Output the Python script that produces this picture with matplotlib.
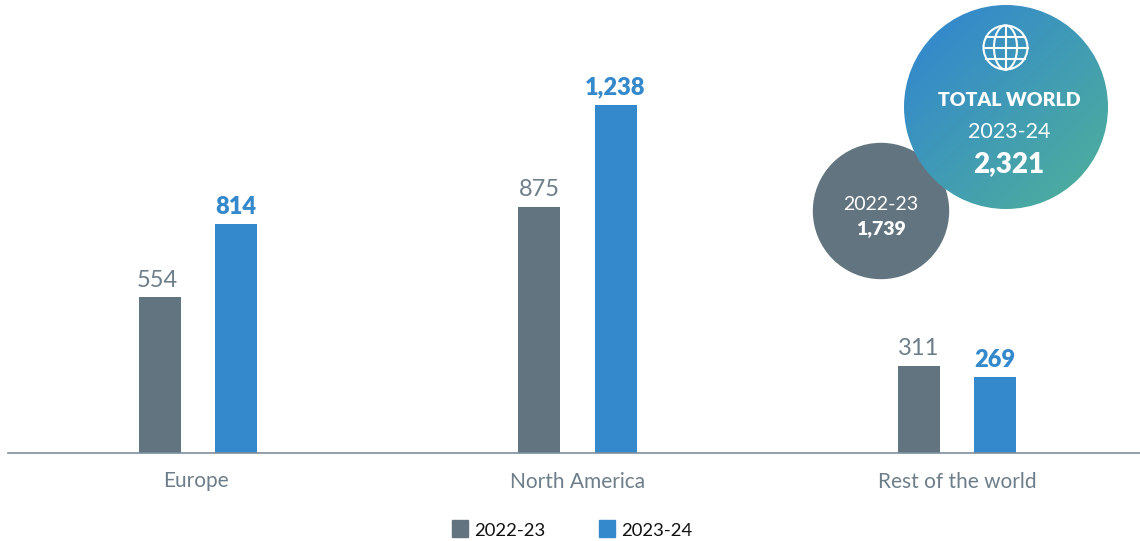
import numpy as np
import matplotlib
matplotlib.use("Agg")
import matplotlib.pyplot as plt
from matplotlib.colors import LinearSegmentedColormap
from matplotlib.patches import Circle, Ellipse, Rectangle

regions = ["Europe", "North America", "Rest of the world"]
values_2223 = [554, 875, 311]
values_2324 = [814, 1238, 269]
seasons = ["2022-23", "2023-24"]
total_2223 = "1,739"
total_2324 = "2,321"

GREY = "#62747f"
BLUE = "#3489cc"
TEAL = "#4cac9f"
LABEL = "#6d7e8a"

W, H = 1140, 541
STEP = 379.25
plt.rcParams["font.family"] = ["Lato", "DejaVu Sans"]

fig = plt.figure(figsize=(W / 100, H / 100), dpi=100, facecolor="white")

# bars, value units on y and region index on x
ax = fig.add_axes([8.5 / W, (H - 453) / H, (W - 8.5) / W, 453 / H])
ax.set_xlim(-189.5 / STEP, 941.5 / STEP)
ax.set_ylim(0, 453 / 0.281)
x = np.arange(len(regions))
bar_w = 42 / STEP
offset = 38 / STEP
ax.bar(x - offset, values_2223, bar_w, color=GREY)
ax.bar(x + offset, values_2324, bar_w, color=BLUE)

for xi, a, b in zip(x, values_2223, values_2324):
    # the Europe labels sit a little left of their bar centres
    shift = -2 if xi == 0 else 0
    ax.annotate(f"{a:,}", (xi - offset, a), xytext=(shift, 4.8), textcoords="offset points",
                ha="center", va="bottom", fontsize=17, color=LABEL)
    ax.annotate(f"{b:,}", (xi + offset, b), xytext=(0, 4.8), textcoords="offset points",
                ha="center", va="bottom", fontsize=17, color=BLUE, fontweight=800)

for side in ["top", "left", "right"]:
    ax.spines[side].set_visible(False)
ax.spines["bottom"].set_color("#7d8f9c")
ax.spines["bottom"].set_linewidth(1.2)
ax.set_yticks([])
ax.set_xticks(x)
ax.set_xticklabels(regions, fontsize=15, color=LABEL)
ax.tick_params(axis="x", length=0, pad=14)

# overlay in pixel coordinates for the circles and legend
ov = fig.add_axes([0, 0, 1, 1])
ov.set_xlim(0, W)
ov.set_ylim(H, 0)
ov.axis("off")

ov.add_patch(Circle((881, 211), 67.5, color=GREY, zorder=2))
ov.text(881, 205, "2022-23", ha="center", va="center", color="white", fontsize=14, zorder=5)
ov.text(881, 229, total_2223, ha="center", va="center", color="white", fontsize=14,
        fontweight=800, zorder=5)

# diagonal gradient disc
cx, cy, r = 1006, 107, 102
yy, xx = np.mgrid[0:1:200j, 0:1:200j]
cmap = LinearSegmentedColormap.from_list("disc", [BLUE, TEAL])
img = ov.imshow((xx + yy) / 2, cmap=cmap, extent=(cx - r, cx + r, cy + r, cy - r),
                origin="upper", aspect="auto", zorder=3, vmin=0.12, vmax=0.88)
img.set_clip_path(Circle((cx, cy), r, transform=ov.transData))
ov.set_xlim(0, W)
ov.set_ylim(H, 0)

ov.text(1009, 101, "TOTAL WORLD", ha="center", va="center", color="white", fontsize=14,
        fontweight=800, zorder=5)
ov.text(1009, 132, seasons[1], ha="center", va="center", color="white", fontsize=15.5, zorder=5)
ov.text(1009, 164, total_2324, ha="center", va="center", color="white", fontsize=20,
        fontweight=800, zorder=5)

# globe icon
gx, gy, gr = 1005.5, 47.5, 22
line = dict(fill=False, ec="white", lw=1.5, zorder=5)
ov.add_patch(Circle((gx, gy), gr, **line))
ov.add_patch(Ellipse((gx, gy), gr * 1.05, gr * 2, **line))
ov.plot([gx, gx], [gy - gr, gy + gr], color="white", lw=1.5, zorder=5)
for dy in (-11, 0, 11):
    half = np.sqrt(gr ** 2 - dy ** 2)
    ov.plot([gx - half, gx + half], [gy + dy, gy + dy], color="white", lw=1.5, zorder=5)

# legend
for px, color, label in zip((452, 599), (GREY, BLUE), seasons):
    ov.add_patch(Rectangle((px, 520), 16, 17, color=color, zorder=2))
    ov.text(px + 22, 531, label, ha="left", va="center", fontsize=13.3, color="#111111")

# Europe's category label is set slightly left of the group centre
europe = ax.get_xticklabels()[0]
europe.set_visible(False)
ov.text(195.5, 481, regions[0], ha="center", va="center", fontsize=15, color=LABEL)

fig.savefig("out.png", dpi=100)
